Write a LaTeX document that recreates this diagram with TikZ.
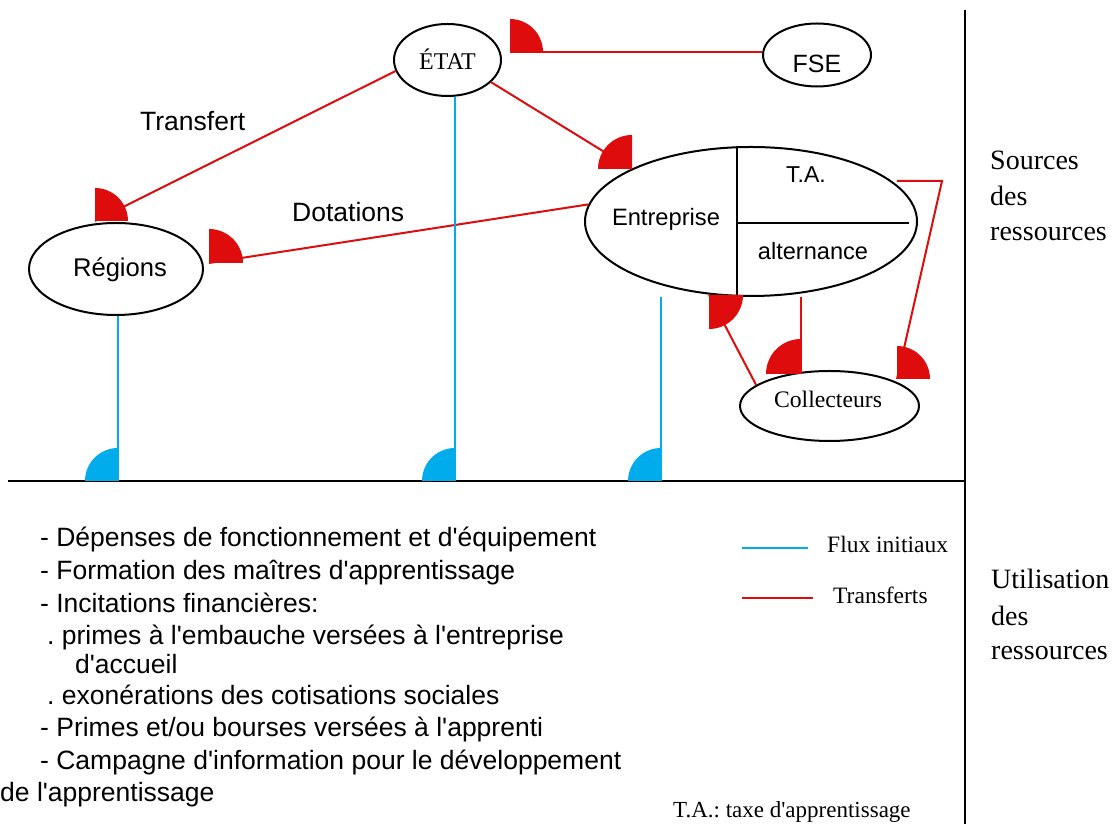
\documentclass[tikz,border=0pt]{standalone}
\usepackage{fontspec}
\setmainfont{Liberation Serif}[Ligatures=TeXOff]
\setsansfont{Liberation Sans}[Ligatures=TeXOff]
\usetikzlibrary{shapes.geometric}

\definecolor{flowred}{RGB}{222,12,12}
\definecolor{flowblue}{RGB}{0,172,236}

% quarter disc: colour, corner, start angle, radius
\newcommand\qdisc[4]{\fill[#1] (#2) -- ++(#3:#4) arc[start angle=#3, delta angle=90, radius=#4] -- cycle;}

\frenchspacing
\begin{document}
\begin{tikzpicture}[x=1pt, y=1pt,
  box/.style={ellipse, draw, line width=2pt, fill=white, inner sep=0pt},
  transfer/.style={draw=flowred, line width=2pt},
  flux/.style={draw=flowblue, line width=2pt},
  frameline/.style={line width=2.5pt},
  divider/.style={line width=2pt},
  sans/.style={font=\sffamily\fontsize{#1}{#1}\selectfont, inner sep=0pt, anchor=base},
  serif/.style={font=\fontsize{#1}{#1}\selectfont, inner sep=0pt, anchor=base},
  listitem/.style={font=\sffamily\fontsize{26.5}{32}\selectfont, inner sep=0pt, anchor=base west},
  side/.style={font=\fontsize{28}{28}\selectfont, inner sep=0pt, anchor=base west}]

\useasboundingbox (0,0) rectangle (1116,824);

% ---- frame: separation between sources and uses ----
\coordinate (hl) at (8,343);
\coordinate (vt) at (965,814);
\coordinate (vb) at (965,0);
\draw[frameline] (vt) -- (vb);
\draw[frameline] (hl) -- (hl -| vt);

% ---- actors ----
\node[box, minimum width=107pt, minimum height=72pt] (etat) at (447.5,764) {};
\node[box, minimum width=108pt, minimum height=63pt] (fse) at (817,769) {};
\node[box, minimum width=174pt, minimum height=92pt] (regions) at (116,555) {};
\node[box, minimum width=332pt, minimum height=149pt] (ent) at (751,602.5) {};
\node[box, minimum width=179pt, minimum height=70pt] (col) at (829.5,418) {};

\node[serif=24] (etatT) at (447.5,754) {ÉTAT};
\node[sans=25] (fseT) at (817,751) {FSE};
\node[sans=25.6] (regionsT) at (120,547) {Régions};
\node[sans=23.7] (entT) at (666,598) {Entreprise};
\node[sans=23] (taT) at (806,641) {T.A.};
\node[sans=23.6] (altT) at (813,564) {alternance};
\node[serif=23.7] (colT) at (828,416) {Collecteurs};

% inner partition of the firm
\draw[divider] ([xshift=-14pt]ent.north) -- ([xshift=-14pt]ent.south);
\draw[divider] ([xshift=-14pt,yshift=-1.5pt]ent.center) -- ([xshift=158pt,yshift=-1.5pt]ent.center);

% ---- marker corners ----
\coordinate (qFse) at (510,772);
\coordinate (qEnt) at (632,655);
\coordinate (qRegA) at (95,603);
\coordinate (qRegB) at (209,561);
\coordinate (qEntB) at (709,529);
\coordinate (qColM) at (801,450);
\coordinate (qColR) at (897,445);
\coordinate (bR) at (118,343);
\coordinate (bE) at (455,343);
\coordinate (bN) at (661,343);
\coordinate (taOut) at (897,643);
\coordinate (taTurn) at (942,643);

% ---- transfers ----
\draw[transfer] (fse.west |- qFse) -- (qFse);
\draw[transfer] (etat.333) -- (qEnt);
\draw[transfer] (etat.192) -- (qRegA);
\draw[transfer] (ent.174) -- (qRegB);
\draw[transfer] (col.164) -- (qEntB);
\draw[transfer] (ent.south -| qColM) -- (qColM);
\draw[transfer] (taOut) -- (taTurn) -- (qColR);

\qdisc{flowred}{qFse}{0}{33pt}
\qdisc{flowred}{qEnt}{90}{34pt}
\qdisc{flowred}{qRegA}{0}{33pt}
\qdisc{flowred}{qRegB}{0}{34pt}
\qdisc{flowred}{qEntB}{270}{34pt}
\qdisc{flowred}{qColM}{90}{35pt}
\qdisc{flowred}{qColR}{0}{33pt}

% ---- initial flows ----
\draw[flux] (regions.south -| bR) -- (bR);
\draw[flux] (etat.south -| bE) -- (bE);
\draw[flux] (ent.south -| bN) -- (bN);
\qdisc{flowblue}{bR}{90}{33pt}
\qdisc{flowblue}{bE}{90}{33pt}
\qdisc{flowblue}{bN}{90}{33pt}

% ---- edge labels ----
\node[listitem] (lblTransfert) at (140,693) {Transfert};
\node[listitem] (lblDotations) at (292,602) {Dotations};

% ---- uses of the resources ----
\node[listitem] (u1) at (40,277) {- Dépenses de fonctionnement et d'équipement};
\node[listitem] (u2) at (40,244) {- Formation des maîtres d'apprentissage};
\node[listitem] (u3) at (40,211) {- Incitations financières:};
\node[listitem] (u4) at (47,179) {. primes à l'embauche versées à l'entreprise};
\node[listitem] (u5) at (75,150) {d'accueil};
\node[listitem] (u6) at (47,119) {. exonérations des cotisations sociales};
\node[listitem] (u7) at (40,87) {- Primes et/ou bourses versées à l'apprenti};
\node[listitem] (u8) at (40,54) {- Campagne d'information pour le développement};
\node[listitem] (u9) at (0,22) {de l'apprentissage};

% ---- side headings ----
\node[side] (s1) at (990,654) {Sources};
\node[side] (s2) at (990,618) {des};
\node[side] (s3) at (990,583) {ressources};
\node[side] (s4) at (991,235) {Utilisation};
\node[side] (s5) at (991,198) {des};
\node[side] (s6) at (991,164) {ressources};

% ---- legend ----
\coordinate (lgB) at (742,276);
\coordinate (lgR) at (742,226);
\node[serif=23.5, anchor=base west] (lgFlux) at (827,271) {Flux initiaux};
\node[serif=23.5, anchor=base west] (lgTr) at (833,220) {Transferts};
\draw[flux] (lgB) -- (lgB -| 808,0);
\draw[transfer] (lgR) -- (lgR -| 813,0);

\node[serif=23, anchor=base west] (note) at (673,6) {T.A.: taxe d'apprentissage};
\end{tikzpicture}
\end{document}
